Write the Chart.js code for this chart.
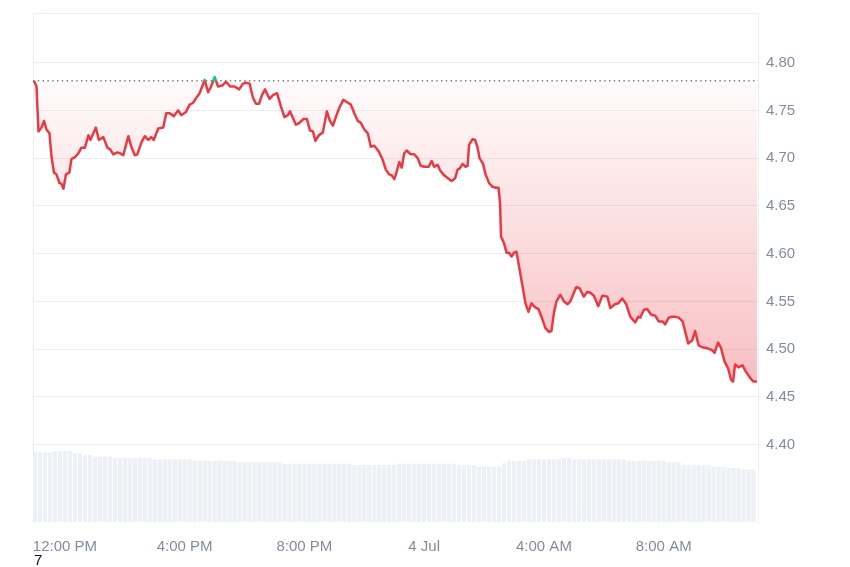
<!DOCTYPE html>
<html>
<head>
<meta charset="utf-8">
<script src="https://cdn.jsdelivr.net/npm/chart.js@4.4.1/dist/chart.umd.min.js"></script>
<style>
  html, body { margin: 0; padding: 0; background: #fff; }
  #wrap { position: relative; width: 850px; height: 567px; }
  #note { position: absolute; left: 34px; top: 551px; font: 15px "Liberation Sans", Arial, sans-serif; color: #111; }
</style>
</head>
<body>
<div id="wrap">
  <canvas id="priceChart" width="850" height="567"></canvas>
  <div id="note">7</div>
</div>
<script>
// time in minutes from midnight 3 Jul
const times = [658,663,667,673,678,683,689,693,698,703,709,713,717,722,729,733,740,747,753,760,
  767,771,782,788,797,805,811,817,825,831,837,847,853,860,865,873,880,887,893,898,
  907,917,923,930,938,947,953,962,970,977,983,990,1000,1007,1013,1020,1027,1035,1043,1051,
  1060,1069,1077,1083,1090,1097,1103,1109,1115,1121,1130,1137,1145,1153,1160,1167,1171,1177,1183,1190,
  1198,1205,1211,1217,1222,1229,1237,1245,1251,1257,1265,1271,1278,1287,1293,1300,1307,1313,1320,1327,
  1333,1340,1349,1357,1363,1370,1375,1380,1385,1390,1395,1400,1405,1413,1420,1427,1433,1440,1449,1455,
  1460,1467,1472,1480,1490,1495,1502,1507,1511,1517,1523,1527,1530,1537,1542,1547,1551,1558,1563,1570,
  1577,1583,1589,1592,1594,1600,1605,1610,1615,1620,1625,1630,1637,1643,1649,1655,1662,1669,1675,1683,
  1690,1695,1700,1705,1713,1720,1727,1733,1740,1745,1751,1760,1767,1773,1780,1789,1797,1807,1813,1822,
  1829,1837,1845,1853,1863,1869,1873,1880,1887,1895,1903,1910,1918,1923,1930,1937,1943,1950,1958,1969,
  1977,1983,1990,1997,2007,2017,2022,2029,2035,2042,2049,2055,2059,2063,2070,2078,2084,2093,2100,2107];

const prices = [4.781,4.775,4.728,4.732,4.739,4.730,4.726,4.702,4.685,4.683,
  4.674,4.673,4.668,4.683,4.685,4.699,4.701,4.705,4.711,4.711,
  4.724,4.719,4.732,4.719,4.722,4.711,4.709,4.704,4.706,4.705,
  4.703,4.723,4.712,4.703,4.704,4.716,4.723,4.719,4.722,4.719,
  4.731,4.732,4.747,4.747,4.744,4.750,4.745,4.748,4.756,4.758,
  4.763,4.768,4.782,4.769,4.775,4.785,4.775,4.776,4.780,4.775,
  4.775,4.772,4.778,4.779,4.778,4.763,4.757,4.757,4.766,4.772,
  4.762,4.766,4.768,4.754,4.743,4.745,4.749,4.742,4.735,4.737,
  4.741,4.741,4.729,4.728,4.718,4.724,4.727,4.749,4.739,4.734,
  4.746,4.754,4.761,4.758,4.756,4.747,4.739,4.737,4.730,4.726,
  4.712,4.713,4.707,4.698,4.688,4.683,4.682,4.678,4.686,4.696,
  4.690,4.705,4.708,4.704,4.704,4.700,4.692,4.691,4.691,4.697,
  4.691,4.693,4.687,4.682,4.678,4.676,4.679,4.688,4.689,4.694,
  4.691,4.692,4.714,4.720,4.719,4.711,4.700,4.694,4.683,4.674,
  4.670,4.669,4.669,4.653,4.618,4.611,4.601,4.601,4.597,4.601,
  4.602,4.587,4.566,4.548,4.539,4.548,4.544,4.542,4.534,4.522,
  4.518,4.519,4.538,4.550,4.557,4.550,4.547,4.550,4.559,4.565,
  4.564,4.555,4.560,4.559,4.556,4.545,4.556,4.555,4.543,4.547,
  4.548,4.553,4.547,4.534,4.528,4.534,4.533,4.541,4.542,4.536,
  4.535,4.529,4.529,4.526,4.533,4.534,4.534,4.533,4.529,4.506,
  4.509,4.519,4.504,4.502,4.501,4.499,4.496,4.507,4.501,4.487,
  4.480,4.468,4.466,4.484,4.481,4.483,4.477,4.470,4.466,4.466];

// 24h volume (millions), one bar every 10 minutes from 11:00
const volStart = 660, volStep = 10;
const volumes = [13.94,13.94,13.94,13.94,14.2,14.2,14.2,14.2,13.74,13.74,
  13.4,13.4,13.06,13.06,13.06,13.06,12.8,12.8,12.8,12.8,
  12.86,12.86,12.86,12.86,12.54,12.54,12.54,12.54,12.54,12.54,
  12.54,12.54,12.2,12.2,12.2,12.2,12.2,12.2,12.2,12.2,
  12.2,11.94,11.94,11.94,11.94,11.94,11.94,11.94,11.94,11.94,
  11.66,11.66,11.66,11.66,11.66,11.66,11.66,11.66,11.66,11.66,
  11.66,11.66,11.66,11.66,11.4,11.4,11.4,11.4,11.4,11.4,
  11.4,11.4,11.4,11.66,11.66,11.66,11.66,11.66,11.66,11.66,
  11.66,11.66,11.66,11.66,11.66,11.4,11.4,11.4,11.4,11.06,
  11.06,11.06,11.06,11.06,11.74,12.2,12.2,12.2,12.2,12.54,
  12.54,12.54,12.54,12.54,12.54,12.54,12.8,12.8,12.54,12.54,
  12.54,12.54,12.54,12.54,12.54,12.54,12.54,12.54,12.54,12.2,
  12.2,12.2,12.2,12.2,12.2,12.2,12.2,11.94,11.94,11.94,
  11.4,11.4,11.4,11.4,11.4,11.4,11.06,11.06,11.06,10.8,
  10.8,10.8,10.54,10.54,10.54];

const xTicks = [720, 960, 1200, 1440, 1680, 1920];
const xTickLabels = ['12:00 PM', '4:00 PM', '8:00 PM', '4 Jul', '4:00 AM', '8:00 AM'];
const yTicks = [4.40, 4.45, 4.50, 4.55, 4.60, 4.65, 4.70, 4.75, 4.80];

const xMin = 656, xMax = 2109;
const yMin = 4.319, yMax = 4.852;
const volMax = 101.8;

const red = '#ea3943';
const green = '#16c784';
const gridColor = '#eceef1';
const tickColor = '#838c9d';
const fontFamily = '"Liberation Sans", Arial, sans-serif';
const baseline = prices[0];

Chart.defaults.font.family = fontFamily;

// green above the opening price, red below
function lineColor(context) {
  const chart = context.chart;
  const area = chart.chartArea;
  if (!area) return red;
  const yb = chart.scales.y.getPixelForValue(baseline);
  const f = Math.min(1, Math.max(0, (yb - area.top) / (area.bottom - area.top)));
  const g = chart.ctx.createLinearGradient(0, area.top, 0, area.bottom);
  g.addColorStop(0, green);
  g.addColorStop(f, green);
  g.addColorStop(f, red);
  g.addColorStop(1, red);
  return g;
}

function fillColor(context) {
  const chart = context.chart;
  if (!chart.chartArea) return 'rgba(234,57,67,0.1)';
  const y0 = chart.scales.y.getPixelForValue(baseline);
  const y1 = chart.scales.y.getPixelForValue(Math.min(...prices));
  const g = chart.ctx.createLinearGradient(0, y0, 0, y1);
  g.addColorStop(0, 'rgba(234,57,67,0.02)');
  g.addColorStop(1, 'rgba(234,57,67,0.32)');
  return g;
}

const ctx = document.getElementById('priceChart').getContext('2d');
new Chart(ctx, {
  type: 'line',
  data: {
    datasets: [
      {
        label: 'Price',
        data: prices.map((p, i) => ({ x: times[i], y: p })),
        borderColor: lineColor,
        backgroundColor: fillColor,
        fill: { value: baseline },
        borderWidth: 2.5,
        pointRadius: 0,
        tension: 0,
        borderJoinStyle: 'round',
        yAxisID: 'y',
        order: 1
      },
      {
        label: 'Open',
        data: [{ x: xMin, y: baseline }, { x: xMax, y: baseline }],
        borderColor: '#7a7a7a',
        borderWidth: 1.4,
        borderDash: [1.4, 3.4],
        pointRadius: 0,
        fill: false,
        yAxisID: 'y',
        order: 2
      },
      {
        type: 'bar',
        label: 'Volume',
        data: volumes.map((v, i) => ({ x: volStart + i * volStep, y: v })),
        backgroundColor: '#edf0f4',
        barPercentage: 0.85,
        categoryPercentage: 1,
        yAxisID: 'yVol',
        order: 3
      }
    ]
  },
  options: {
    responsive: false,
    animation: false,
    layout: { padding: 0 },
    plugins: {
      legend: { display: false },
      tooltip: { enabled: false }
    },
    scales: {
      x: {
        type: 'linear',
        position: 'bottom',
        min: xMin,
        max: xMax,
        offset: false,
        grid: { display: false },
        border: { display: false },
        afterBuildTicks: axis => { axis.ticks = xTicks.map(v => ({ value: v })); },
        afterFit: axis => { axis.height = 45; },
        ticks: {
          color: tickColor,
          font: { size: 15 },
          padding: 8,
          maxRotation: 0,
          autoSkip: false,
          callback: v => xTickLabels[xTicks.indexOf(v)]
        }
      },
      xTop: {
        type: 'linear',
        position: 'top',
        min: xMin,
        max: xMax,
        grid: { display: false },
        ticks: { display: false },
        border: { color: gridColor },
        afterFit: axis => { axis.height = 13; }
      },
      y: {
        position: 'right',
        min: yMin,
        max: yMax,
        grid: { color: gridColor, drawTicks: false },
        border: { color: gridColor },
        afterBuildTicks: axis => { axis.ticks = yTicks.map(v => ({ value: v })); },
        afterFit: axis => { axis.width = 92; axis.paddingTop = 0; axis.paddingBottom = 0; },
        ticks: {
          color: tickColor,
          font: { size: 15 },
          padding: 8,
          callback: v => v.toFixed(2)
        }
      },
      yVol: {
        position: 'left',
        min: 0,
        max: volMax,
        grid: { display: false },
        ticks: { display: false },
        border: { color: gridColor },
        afterFit: axis => { axis.width = 33; axis.paddingTop = 0; axis.paddingBottom = 0; }
      }
    }
  }
});
</script>
</body>
</html>
